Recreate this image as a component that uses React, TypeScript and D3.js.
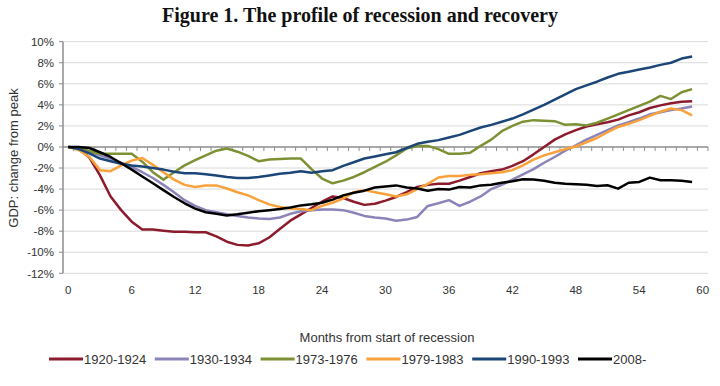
import React, { useRef, useEffect } from "react";
import * as d3 from "d3";

const months = d3.range(0, 61);
const xTicks = [0, 6, 12, 18, 24, 30, 36, 42, 48, 54, 60];
const yTicks = [-12, -10, -8, -6, -4, -2, 0, 2, 4, 6, 8, 10];

const seriesNames = ["1920-1924", "1930-1934", "1973-1976", "1979-1983", "1990-1993", "2008-"];
const seriesColors = ["#8c1b2d", "#8a84b9", "#7d9134", "#f9a13a", "#1b4677", "#000000"];

// % change from peak, months 0..59
const s1920 = [0, -0.15, -1.0, -2.7, -4.7, -6.0, -7.1, -7.85, -7.85, -7.95, -8.05, -8.05, -8.1, -8.1, -8.5, -9.0, -9.3, -9.35, -9.15, -8.6,
  -7.8, -7.0, -6.4, -5.8, -5.2, -4.7, -4.85, -5.2, -5.5, -5.4, -5.1, -4.75, -4.3, -3.8, -3.6, -3.5, -3.5, -3.2, -2.85, -2.5,
  -2.3, -2.15, -1.8, -1.35, -0.7, 0, 0.7, 1.2, 1.6, 1.95, 2.15, 2.35, 2.6, 3.0, 3.3, 3.7, 3.95, 4.15, 4.3, 4.35];
const s1930 = [0, -0.1, -0.4, -0.8, -1.1, -1.5, -1.9, -2.4, -2.95, -3.6, -4.3, -5.05, -5.6, -6.0, -6.2, -6.4, -6.55, -6.7, -6.8, -6.85,
  -6.7, -6.35, -6.1, -6.0, -5.95, -5.95, -6.0, -6.25, -6.55, -6.7, -6.8, -7.0, -6.9, -6.65, -5.6, -5.35, -5.05, -5.6, -5.2, -4.7,
  -4.0, -3.6, -3.1, -2.6, -2.1, -1.5, -0.95, -0.35, 0.15, 0.7, 1.15, 1.6, 2.05, 2.35, 2.7, 3.1, 3.3, 3.5, 3.65, 3.85];
const s1973 = [0, -0.15, -0.4, -0.65, -0.65, -0.65, -0.65, -1.4, -2.4, -3.1, -2.4, -1.75, -1.25, -0.8, -0.35, -0.15, -0.45, -0.85, -1.35, -1.2,
  -1.15, -1.1, -1.1, -2.1, -3.0, -3.45, -3.2, -2.85, -2.4, -1.9, -1.4, -0.8, -0.15, 0.1, 0.1, -0.2, -0.65, -0.65, -0.55, 0.1,
  0.7, 1.5, 2.0, 2.4, 2.55, 2.5, 2.45, 2.1, 2.15, 2.05, 2.3, 2.7, 3.1, 3.5, 3.9, 4.3, 4.85, 4.55, 5.2, 5.5];
const s1979 = [0, -0.3, -0.95, -2.2, -2.3, -1.75, -1.3, -1.05, -1.7, -2.4, -3.1, -3.6, -3.8, -3.65, -3.65, -3.95, -4.3, -4.6, -5.05, -5.45,
  -5.7, -5.85, -5.9, -6.0, -5.6, -5.3, -4.9, -4.3, -4.1, -4.3, -4.5, -4.7, -4.5, -4.0, -3.5, -2.9, -2.75, -2.75, -2.65, -2.6,
  -2.5, -2.4, -2.2, -1.75, -1.2, -0.8, -0.5, -0.2, 0.05, 0.45, 0.85, 1.4, 1.9, 2.2, 2.55, 2.95, 3.35, 3.65, 3.5, 3.0];
const s1990 = [0, -0.2, -0.6, -1.1, -1.35, -1.6, -1.75, -1.85, -2.0, -2.15, -2.35, -2.5, -2.5, -2.6, -2.7, -2.85, -2.95, -2.95, -2.85, -2.7,
  -2.55, -2.45, -2.3, -2.45, -2.3, -2.2, -1.8, -1.45, -1.1, -0.9, -0.7, -0.5, -0.1, 0.3, 0.5, 0.65, 0.9, 1.15, 1.5, 1.85,
  2.1, 2.4, 2.7, 3.1, 3.55, 4.0, 4.5, 5.0, 5.5, 5.85, 6.2, 6.6, 6.95, 7.15, 7.35, 7.55, 7.8, 8.0, 8.4, 8.6];
const s2008 = [0, 0, -0.1, -0.5, -0.95, -1.55, -2.15, -2.8, -3.45, -4.1, -4.75, -5.35, -5.85, -6.2, -6.35, -6.5, -6.4, -6.25, -6.1, -6.0,
  -5.9, -5.75, -5.55, -5.45, -5.3, -5.0, -4.6, -4.35, -4.15, -3.85, -3.75, -3.65, -3.85, -3.95, -4.15, -4.0, -4.05, -3.8, -3.85, -3.65,
  -3.58, -3.4, -3.26, -3.07, -3.1, -3.2, -3.4, -3.5, -3.54, -3.58, -3.7, -3.64, -3.96, -3.4, -3.32, -2.91, -3.16, -3.16, -3.2, -3.32];

const seriesValues = [s1920, s1930, s1973, s1979, s1990, s2008];

const App = () => {
  const svgRef = useRef<SVGSVGElement>(null);

  useEffect(() => {
    const width = 720;
    const height = 386;
    const sans = "'Liberation Sans', Arial, sans-serif";

    const svg = d3.select(svgRef.current).attr("width", width).attr("height", height).html("");

    svg.append("rect").attr("width", width).attr("height", height).attr("fill", "#fff");

    const x = d3.scaleLinear().domain([-0.5, 60.5]).range([63, 708]);
    const y = d3.scaleLinear().domain([-12, 10]).range([273.3, 41.7]);

    // title
    svg
      .append("text")
      .attr("x", 360)
      .attr("y", 22)
      .attr("text-anchor", "middle")
      .attr("font-family", "'Liberation Serif', 'Times New Roman', serif")
      .attr("font-weight", "bold")
      .attr("font-size", 20)
      .attr("fill", "#111")
      .text("Figure 1. The profile of recession and recovery");

    // gridlines
    svg
      .append("g")
      .selectAll("line")
      .data(yTicks.filter((d) => d !== 0))
      .join("line")
      .attr("x1", x(-0.5))
      .attr("x2", x(60.5))
      .attr("y1", (d) => y(d))
      .attr("y2", (d) => y(d))
      .attr("stroke", "#d9d9d9")
      .attr("stroke-width", 1);

    // y axis
    svg
      .append("line")
      .attr("x1", x(-0.5))
      .attr("x2", x(-0.5))
      .attr("y1", y(-12))
      .attr("y2", y(10))
      .attr("stroke", "#8c8c8c")
      .attr("stroke-width", 1.5);

    svg
      .append("g")
      .selectAll("line")
      .data(yTicks)
      .join("line")
      .attr("x1", x(-0.5) - 4)
      .attr("x2", x(-0.5))
      .attr("y1", (d) => y(d))
      .attr("y2", (d) => y(d))
      .attr("stroke", "#8c8c8c");

    svg
      .append("g")
      .selectAll("text")
      .data(yTicks)
      .join("text")
      .attr("x", 54)
      .attr("y", (d) => y(d) + 4.2)
      .attr("text-anchor", "end")
      .attr("font-family", sans)
      .attr("font-size", 11.5)
      .attr("fill", "#333")
      .text((d) => d + "%");

    // zero line with month ticks
    svg
      .append("line")
      .attr("x1", x(-0.5))
      .attr("x2", x(60.5))
      .attr("y1", y(0))
      .attr("y2", y(0))
      .attr("stroke", "#8c8c8c")
      .attr("stroke-width", 1.5);

    svg
      .append("g")
      .selectAll("line")
      .data(months)
      .join("line")
      .attr("x1", (d) => x(d + 0.5))
      .attr("x2", (d) => x(d + 0.5))
      .attr("y1", y(0))
      .attr("y2", y(0) + 4)
      .attr("stroke", "#8c8c8c");

    svg
      .append("g")
      .selectAll("text")
      .data(xTicks)
      .join("text")
      .attr("x", (d) => x(d))
      .attr("y", 294)
      .attr("text-anchor", "middle")
      .attr("font-family", sans)
      .attr("font-size", 11.5)
      .attr("fill", "#333")
      .text((d) => d);

    // axis titles
    svg
      .append("text")
      .attr("transform", "translate(18,158) rotate(-90)")
      .attr("text-anchor", "middle")
      .attr("font-family", sans)
      .attr("font-size", 13)
      .attr("fill", "#333")
      .text("GDP: change from peak");

    svg
      .append("text")
      .attr("x", 387)
      .attr("y", 342)
      .attr("text-anchor", "middle")
      .attr("font-family", sans)
      .attr("font-size", 13)
      .attr("fill", "#333")
      .text("Months from start of recession");

    // series
    const line = d3
      .line<number>()
      .x((d, i) => x(months[i]))
      .y((d) => y(d));

    seriesValues.forEach((vals, i) => {
      svg
        .append("path")
        .datum(vals)
        .attr("d", line)
        .attr("fill", "none")
        .attr("stroke", seriesColors[i])
        .attr("stroke-width", 2.5)
        .attr("stroke-linejoin", "round");
    });

    // legend
    const legend = svg
      .append("g")
      .selectAll("g")
      .data(seriesNames)
      .join("g")
      .attr("transform", (d, i) => `translate(${49 + i * 105.8},359)`);

    legend
      .append("line")
      .attr("x1", 0)
      .attr("x2", 34)
      .attr("stroke", (d, i) => seriesColors[i])
      .attr("stroke-width", 3);

    legend
      .append("text")
      .attr("x", 35)
      .attr("y", 5)
      .attr("font-family", sans)
      .attr("font-size", 13)
      .attr("fill", "#333")
      .text((d) => d);
  }, []);

  return <svg ref={svgRef} style={{ position: "absolute", left: 0, top: 0 }} />;
};

export default App;
